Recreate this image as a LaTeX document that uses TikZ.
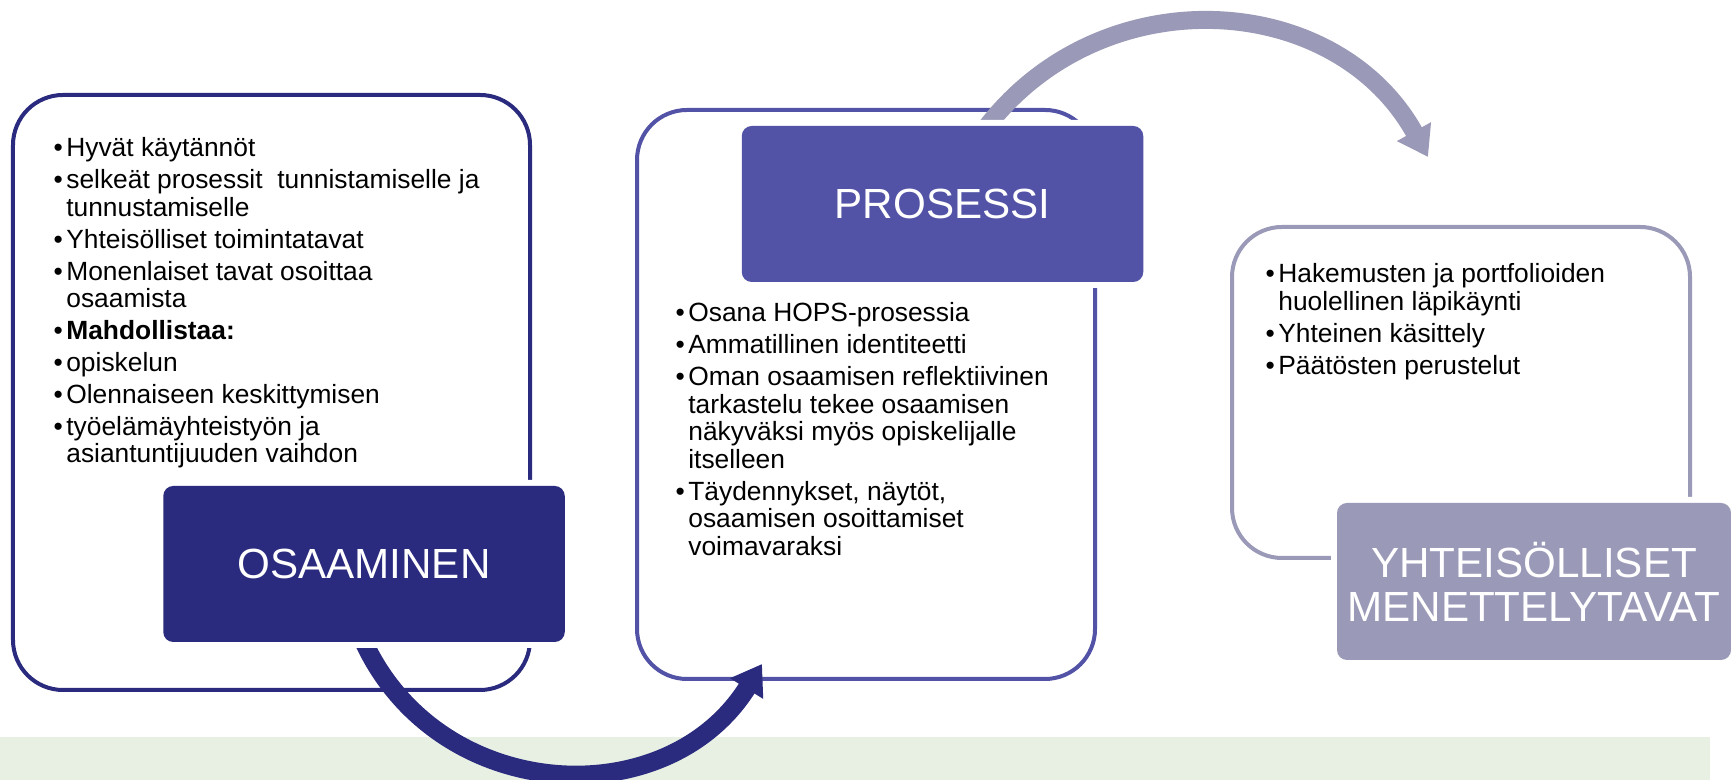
\documentclass[tikz,border=0pt]{standalone}
\usepackage{fontspec}
\setmainfont{Liberation Sans}
\usepackage{tikz}
\usetikzlibrary{arrows.meta}
\definecolor{osaaminenblue}{RGB}{42,42,126}
\definecolor{prosessiblue}{RGB}{82,82,166}
\definecolor{menettelygray}{RGB}{154,154,184}
\definecolor{bandgreen}{RGB}{232,240,228}
\pgfdeclarelayer{front}
\pgfsetlayers{main,front}
\newcommand{\itembul}{\llap{•\hspace{2pt}}}

\begin{document}
\begin{tikzpicture}[
        frame/.style={rectangle, rounded corners=1cm, line width=0.08cm},
        heading/.style={rectangle, rounded corners=0.2cm, minimum width=8.03cm, minimum height=3.12cm, text=white, font=\fontsize{24}{25}\selectfont, align=center, preaction={draw=white, line width=0.24cm}},
        bullets/.style={anchor=north west, inner sep=0pt, align=left, font=\fontsize{15}{15.65}\selectfont},
        flow/.style={-{Triangle[length=0.58cm, width=0.74cm]}, line width=0.37cm}
    ]
    \useasboundingbox (0,0) rectangle (34.62,15.6);

    % Green band at the bottom
    \fill[bandgreen] (0,0) rectangle (34.2,0.86);

    % Outer frames
    \node[frame, draw=osaaminenblue, minimum width=10.34cm, minimum height=11.9cm] (osaaminenframe) at (5.43,7.75) {};
    \node[frame, draw=prosessiblue, minimum width=9.16cm, minimum height=11.38cm] (prosessiframe) at (17.32,7.71) {};
    \node[frame, draw=menettelygray, minimum width=9.16cm, minimum height=6.62cm] (menettelyframe) at (29.22,7.75) {};

    % Bullet lists
    \node[bullets] (osaaminenlist) at (1.32,12.85) {%
        \itembul Hyvät käytännöt\\[2.5pt]
        \itembul selkeät prosessit\ \ tunnistamiselle ja\\
        tunnustamiselle\\[2.5pt]
        \itembul Yhteisölliset toimintatavat\\[2.5pt]
        \itembul Monenlaiset tavat osoittaa\\
        osaamista\\[2.5pt]
        \itembul\textbf{Mahdollistaa:}\\[2.5pt]
        \itembul opiskelun\\[2.5pt]
        \itembul Olennaiseen keskittymisen\\[2.5pt]
        \itembul työelämäyhteistyön ja\\
        asiantuntijuuden vaihdon};
    \node[bullets] (prosessilist) at (13.76,9.55) {%
        \itembul Osana HOPS-prosessia\\[2.5pt]
        \itembul Ammatillinen identiteetti\\[2.5pt]
        \itembul Oman osaamisen reflektiivinen\\
        tarkastelu tekee osaamisen\\
        näkyväksi myös opiskelijalle\\
        itselleen\\[2.5pt]
        \itembul Täydennykset, näytöt,\\
        osaamisen osoittamiset\\
        voimavaraksi};
    \node[bullets] (menettelylist) at (25.56,10.33) {%
        \itembul Hakemusten ja portfolioiden\\
        huolellinen läpikäynti\\[2.5pt]
        \itembul Yhteinen käsittely\\[2.5pt]
        \itembul Päätösten perustelut};

    % Headings - above the arrows
    \begin{pgfonlayer}{front}
    \node[heading, fill=osaaminenblue] (osaaminen) at (7.28,4.32) {OSAAMINEN};
    \node[heading, fill=prosessiblue] (prosessi) at (18.85,11.52) {PROSESSI};
    \node[heading, fill=menettelygray, minimum width=7.88cm, minimum height=3.14cm] (menettely) at (30.68,3.97) {YHTEISÖLLISET\\MENETTELYTAVAT};
    \end{pgfonlayer}

    % Curved arrows
    \coordinate (osaaminentip) at (15.24,2.32);
    \coordinate (prosessitip) at (28.56,12.46);
    \draw[flow, osaaminenblue] (osaaminen.south) to[out=-65, in=238, looseness=1.15] (osaaminentip);
    \draw[flow, menettelygray, line width=0.36cm] ([xshift=0.9cm]prosessi.north) to[out=52, in=119, looseness=1.1] (prosessitip);

\end{tikzpicture}
\end{document}
